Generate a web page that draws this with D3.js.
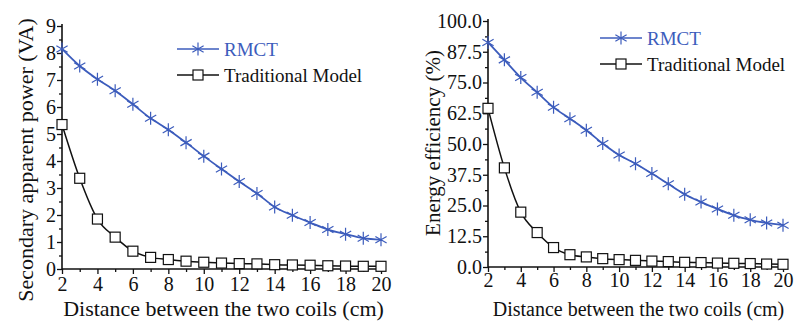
<!DOCTYPE html>
<html>
<head>
<meta charset="utf-8">
<script src="https://cdn.jsdelivr.net/npm/d3@7"></script>
<style>
  html, body { margin: 0; padding: 0; background: #fff; }
  svg { display: block; font-family: "Liberation Serif", "Times New Roman", serif; }
</style>
</head>
<body>
<div id="chart"></div>
<script>
// distance between coils (cm)
const distance = [2,3,4,5,6,7,8,9,10,11,12,13,14,15,16,17,18,19,20];

// secondary apparent power (VA)
const powerRMCT = [8.15,7.52,7.03,6.6,6.1,5.58,5.16,4.68,4.18,3.7,3.24,2.8,2.3,1.99,1.72,1.46,1.29,1.14,1.08];
const powerTrad = [5.35,3.36,1.85,1.18,0.66,0.43,0.35,0.29,0.25,0.22,0.2,0.19,0.16,0.15,0.14,0.12,0.11,0.1,0.1];

// energy efficiency (%)
const effRMCT = [91.3,84.2,77.0,71.0,64.9,60.3,55.6,50.2,45.5,42.0,38.0,33.8,29.6,26.4,23.6,21.0,19.2,17.9,17.0];
const effTrad = [64.5,40.3,22.3,14.0,7.9,5.0,4.1,3.4,3.0,2.7,2.4,2.2,1.9,1.8,1.6,1.5,1.4,1.2,1.1];

const xTicks = [2,4,6,8,10,12,14,16,18,20];
const powerTicks = [0,1,2,3,4,5,6,7,8,9];
const effTicks = [0,12.5,25,37.5,50,62.5,75,87.5,100];

const seriesNames = ["RMCT", "Traditional Model"];
const blue = "#3c5cbc";

const W = 794, H = 322;
const svg = d3.select("#chart").append("svg").attr("width", W).attr("height", H);
svg.append("rect").attr("width", W).attr("height", H).attr("fill", "#fff");

function starPath(s) {
  const r = s / 2, a = r * 0.866, b = r * 0.5;
  return `M0,${-r}L0,${r}M${-a},${-b}L${a},${b}M${-a},${b}L${a},${-b}`;
}

function drawMarker(g, type, cx, cy) {
  if (type === "star") {
    g.append("path").attr("d", starPath(13)).attr("transform", `translate(${cx},${cy})`)
      .attr("stroke", blue).attr("stroke-width", 1.2).attr("fill", "none");
  } else {
    g.append("rect").attr("x", cx - 5).attr("y", cy - 5).attr("width", 10).attr("height", 10)
      .attr("fill", "#fff").attr("stroke", "#111").attr("stroke-width", 1.2);
  }
}

function panel(cfg) {
  const g = svg.append("g");
  const x = d3.scaleLinear().domain([2, 20]).range([cfg.x0, cfg.x1]);
  const y = d3.scaleLinear().domain([0, cfg.ymax]).range([cfg.y0, cfg.y1]);

  // minor ticks halfway between majors
  const xMinor = d3.range(3, 20, 2);
  const yMinor = cfg.yTicks.slice(0, -1).map((t, i) => (t + cfg.yTicks[i + 1]) / 2);

  const xa = g.append("g").attr("transform", `translate(0,${cfg.y0})`)
    .call(d3.axisBottom(x).tickValues(xTicks).tickSize(5).tickPadding(cfg.xPad).tickFormat(d3.format("d")));
  g.append("g").attr("transform", `translate(0,${cfg.y0})`)
    .call(d3.axisBottom(x).tickValues(xMinor).tickSize(3).tickFormat(""))
    .call(a => a.select(".domain").remove());
  const ya = g.append("g").attr("transform", `translate(${cfg.x0},0)`)
    .call(d3.axisLeft(y).tickValues(cfg.yTicks).tickSize(5).tickPadding(1).tickFormat(cfg.yFmt));
  g.append("g").attr("transform", `translate(${cfg.x0},0)`)
    .call(d3.axisLeft(y).tickValues(yMinor).tickSize(3).tickFormat(""))
    .call(a => a.select(".domain").remove());

  g.selectAll(".domain").attr("stroke", "#111").attr("stroke-width", 1.6);
  g.selectAll(".tick line").attr("stroke", "#111").attr("stroke-width", 1.3);
  g.selectAll(".tick text").attr("fill", "#111").style("font-size", "20px")
    .style("font-family", "'Liberation Serif', serif");
  // plain axis lines, no outer ticks
  xa.select(".domain").attr("d", `M${cfg.x0},0H${cfg.x1 + 2}`);
  ya.select(".domain").attr("d", `M0,${cfg.y0}V${cfg.y1 - 2}`);

  const line = d3.line().x(d => x(d[0])).y(d => y(d[1])).curve(d3.curveMonotoneX);

  const rm = distance.map((d, i) => [d, cfg.rmct[i]]);
  const tr = distance.map((d, i) => [d, cfg.trad[i]]);

  g.append("path").datum(tr).attr("d", line).attr("fill", "none").attr("stroke", "#111").attr("stroke-width", 1.5);
  g.append("path").datum(rm).attr("d", line).attr("fill", "none").attr("stroke", blue).attr("stroke-width", 1.8);

  tr.forEach(d => drawMarker(g, "square", x(d[0]), y(d[1])));
  rm.forEach(d => drawMarker(g, "star", x(d[0]), y(d[1])));

  // axis titles
  g.append("text").attr("x", (cfg.x0 + cfg.x1) / 2 + cfg.xtShift).attr("y", cfg.xtY)
    .attr("text-anchor", "middle").style("font-size", cfg.xtSize + "px").attr("fill", "#111")
    .text("Distance between the two coils (cm)");
  g.append("text").attr("transform", `translate(${cfg.ytX},${cfg.ytY}) rotate(-90)`)
    .attr("text-anchor", "middle").style("font-size", cfg.ytSize + "px").attr("fill", "#111")
    .text(cfg.yTitle);

  // legend
  const lg = g.append("g");
  [["star", blue], ["square", "#111"]].forEach(([type, col], i) => {
    const ly = cfg.legY + i * 26;
    lg.append("line").attr("x1", cfg.legX).attr("x2", cfg.legX + 42).attr("y1", ly).attr("y2", ly)
      .attr("stroke", col).attr("stroke-width", 1.6);
    drawMarker(lg, type, cfg.legX + 21, ly);
    lg.append("text").attr("x", cfg.legX + 47).attr("y", ly + 7).style("font-size", "19px")
      .attr("fill", col).text(seriesNames[i]);
  });
}

panel({
  x0: 62, x1: 381, y0: 269, y1: 26, ymax: 9,
  yTicks: powerTicks, yFmt: d3.format("d"),
  rmct: powerRMCT, trad: powerTrad,
  xPad: 3, xtY: 316, xtSize: 22, xtShift: 2,
  ytX: 33, ytY: 160, ytSize: 22, yTitle: "Secondary apparent power (VA)",
  legX: 177, legY: 49
});

panel({
  x0: 488, x1: 783, y0: 267, y1: 21, ymax: 100,
  yTicks: effTicks, yFmt: d3.format(".1f"),
  rmct: effRMCT, trad: effTrad,
  xPad: 1, xtY: 316, xtSize: 20, xtShift: 3,
  ytX: 440, ytY: 143, ytSize: 21, yTitle: "Energy efficiency (%)",
  legX: 600, legY: 38
});
</script>
</body>
</html>
